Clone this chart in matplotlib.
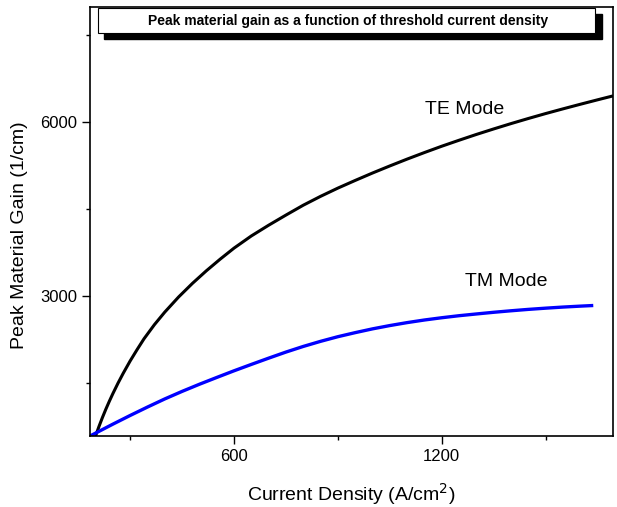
import matplotlib.pyplot as plt
from matplotlib.patches import Rectangle

plt.rcParams['font.family'] = ['Liberation Sans', 'DejaVu Sans']

# TE mode curve
te_x = [200, 210, 220, 230, 240, 250, 265, 280, 300, 320, 340, 370, 400, 440, 480,
        520, 560, 600, 650, 700, 750, 800, 850, 900, 950, 1000, 1050, 1100, 1150,
        1200, 1250, 1300, 1350, 1400, 1450, 1500, 1550, 1600, 1650, 1695]
te_y = [586, 751, 906, 1051, 1187, 1316, 1498, 1668, 1880, 2075, 2262, 2505, 2722,
        2983, 3218, 3434, 3635, 3825, 4035, 4220, 4395, 4565, 4718, 4860, 4992,
        5120, 5242, 5360, 5473, 5582, 5685, 5785, 5880, 5972, 6060, 6145, 6226,
        6305, 6382, 6450]

# TM mode curve
tm_x = [184, 250, 300, 350, 400, 450, 500, 550, 600, 650, 700, 750, 800, 850, 900,
        950, 1000, 1050, 1100, 1150, 1200, 1250, 1300, 1350, 1400, 1450, 1500,
        1550, 1600, 1638]
tm_y = [586, 790, 940, 1085, 1225, 1355, 1478, 1595, 1710, 1820, 1928, 2033, 2130,
        2218, 2298, 2368, 2433, 2490, 2541, 2586, 2625, 2660, 2690, 2719, 2745,
        2769, 2790, 2809, 2825, 2836]

x_major = [600, 1200]
x_minor = [300, 900, 1500]
y_major = [3000, 6000]
y_minor = [1500, 4500, 7500]

W, H = 617, 507
fig = plt.figure(figsize=(W / 100, H / 100), dpi=100)
ax = fig.add_axes([90 / W, 1 - 436 / H, 523 / W, 429 / H])

ax.plot(te_x, te_y, color='black', lw=2.2, solid_capstyle='butt')
ax.plot(tm_x, tm_y, color='#0000ff', lw=2.4, solid_capstyle='butt')

ax.set_xlim(184, 1695)
ax.set_ylim(586, 7983)

ax.set_xticks(x_major)
ax.set_xticks(x_minor, minor=True)
ax.set_yticks(y_major)
ax.set_yticks(y_minor, minor=True)
ax.tick_params(which='major', direction='out', length=5.5, width=1, labelsize=12)
ax.tick_params(axis='x', which='major', pad=4)
ax.tick_params(axis='y', which='major', pad=3.5)
ax.tick_params(which='minor', direction='out', length=3, width=1)
for s in ax.spines.values():
    s.set_linewidth(1.2)

ax.set_xlabel('Current Density (A/cm$^2$)', fontsize=14, labelpad=12)
fig.text(20 / W, 1 - 235 / H, 'Peak Material Gain (1/cm)', fontsize=14,
         rotation=90, ha='center', va='center')

ax.annotate('TE Mode', xy=(465 / W, 1 - 110 / H), xycoords='figure fraction',
            fontsize=14, ha='center', va='center')
ax.annotate('TM Mode', xy=(506 / W, 1 - 282 / H), xycoords='figure fraction',
            fontsize=14, ha='center', va='center')

# title box with drop shadow
fig.patches.append(Rectangle((104 / W, 1 - 39 / H), 498 / W, 25 / H,
                             transform=fig.transFigure, facecolor='black',
                             edgecolor='black', zorder=5))
fig.patches.append(Rectangle((98 / W, 1 - 33 / H), 497 / W, 25 / H,
                             transform=fig.transFigure, facecolor='white',
                             edgecolor='black', lw=0.8, zorder=6))
fig.text(348 / W, 1 - 20.5 / H, 'Peak material gain as a function of threshold current density',
         fontsize=10, fontweight='bold', ha='center', va='center', zorder=7)

fig.savefig('out.png', dpi=100)
